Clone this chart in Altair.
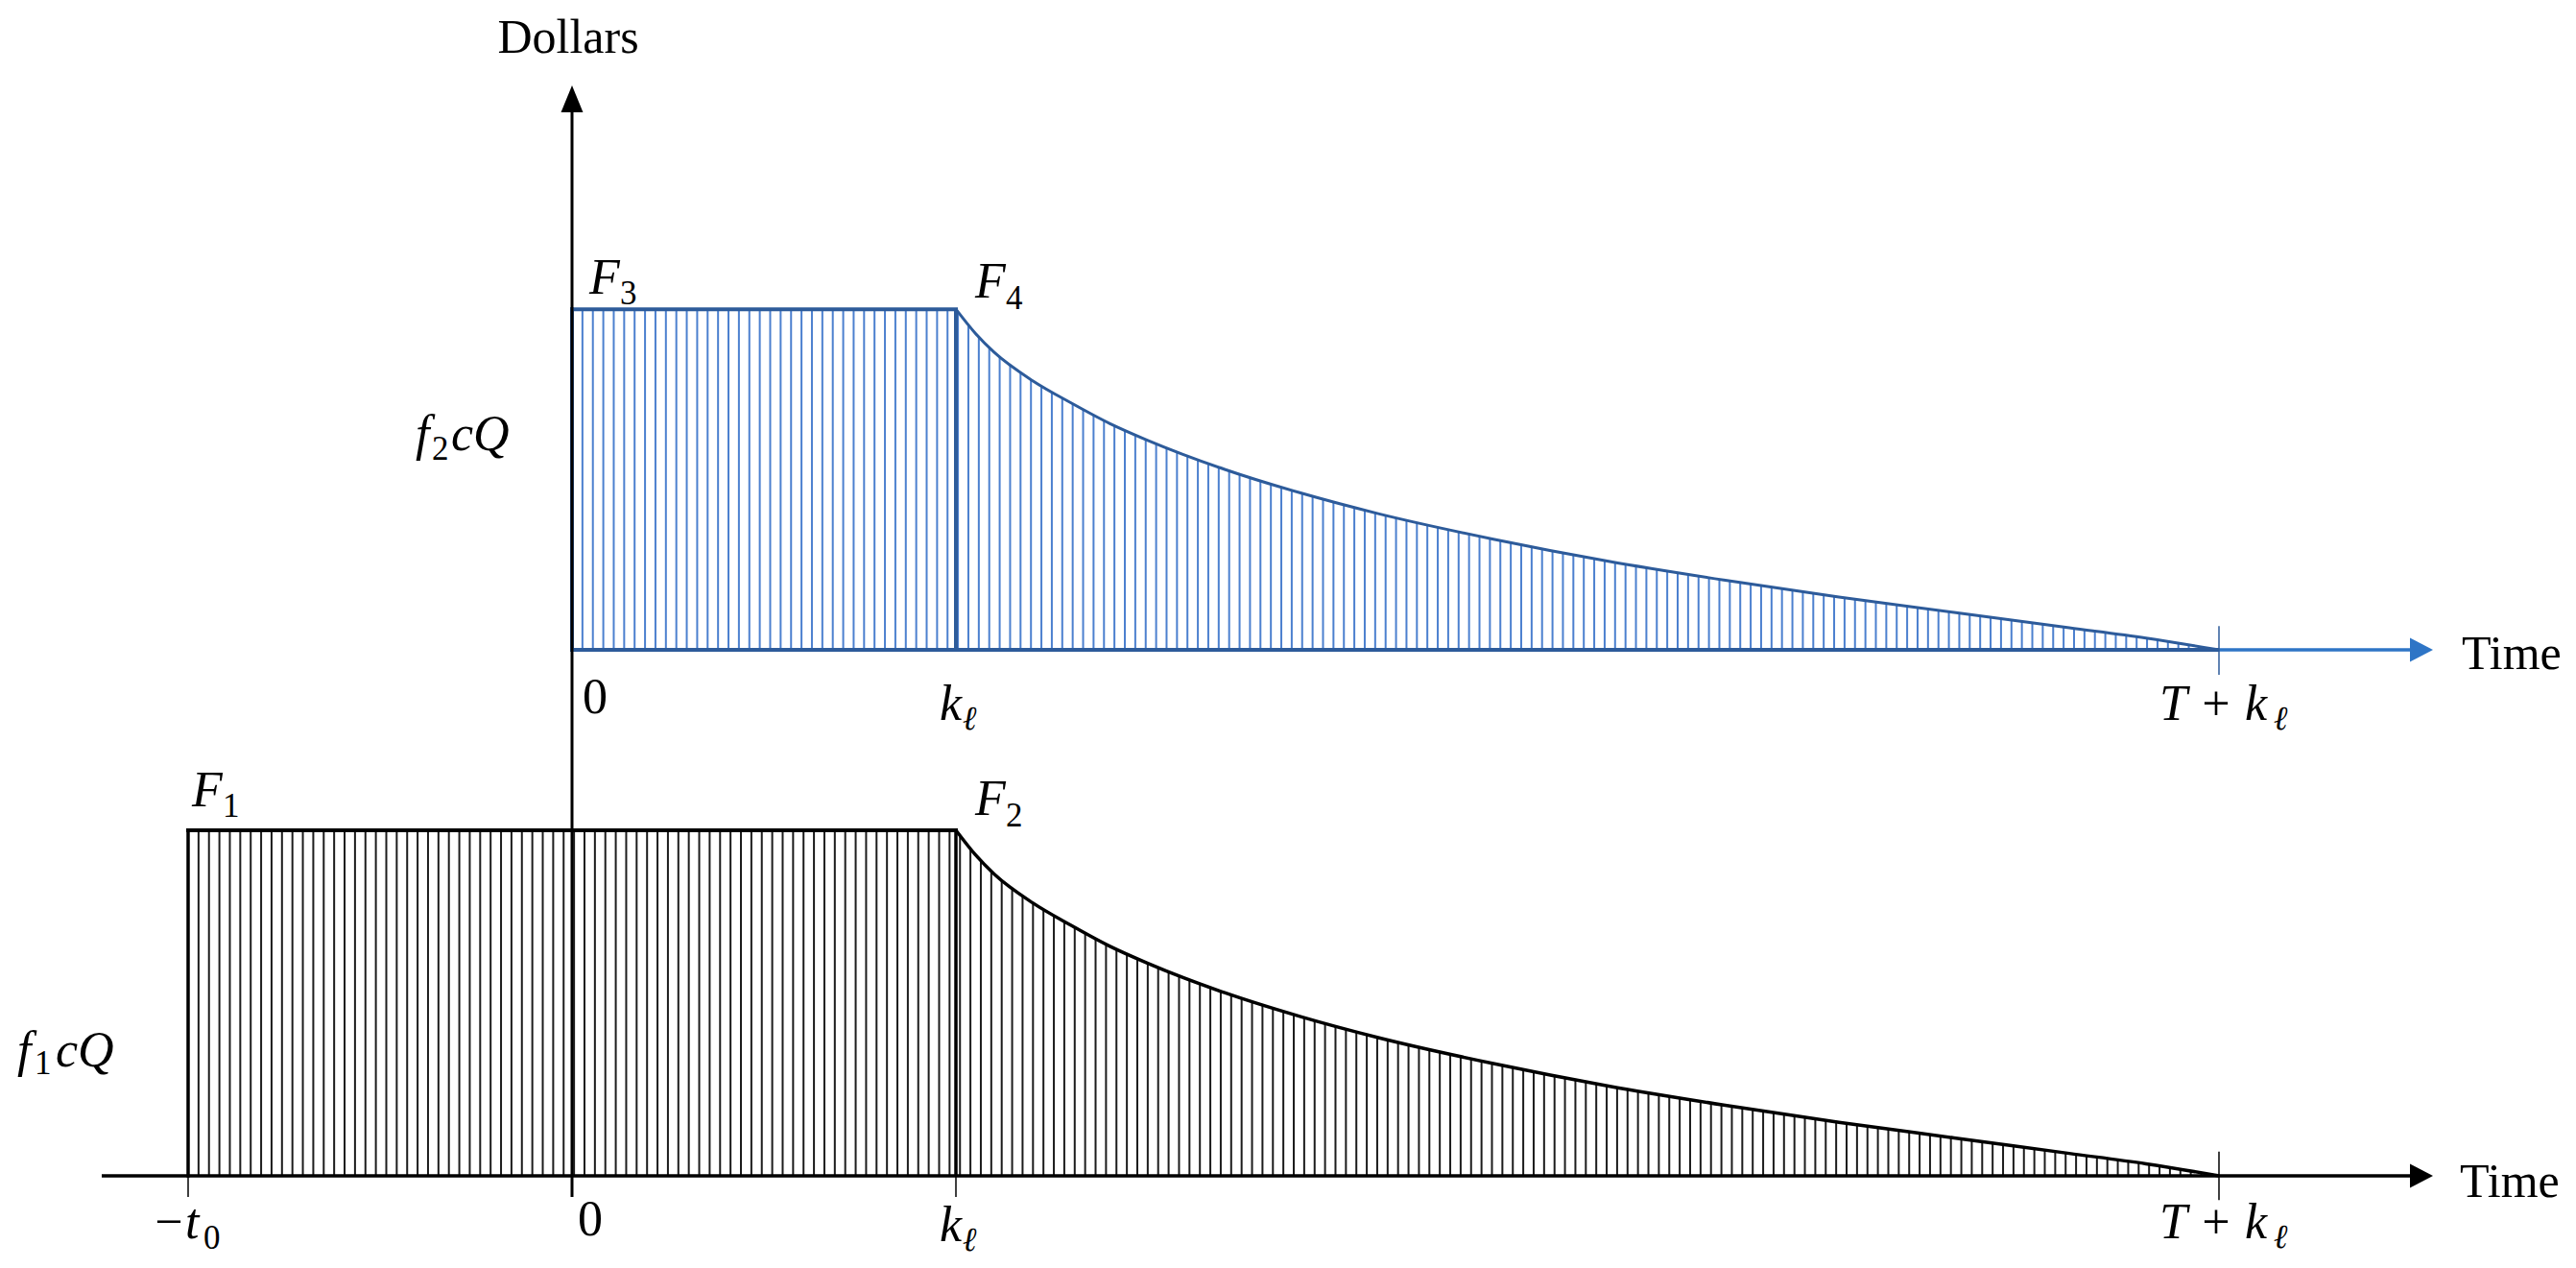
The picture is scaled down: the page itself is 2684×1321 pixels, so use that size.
import altair as alt
import numpy as np
import pandas as pd

# ---------------- values ----------------
tick_t = [-1.0, 0.0, 1.0, 4.29]          # -t0, 0, k_l, T + k_l  (time units, k_l = 1)
f1cQ = 1.0                               # plateau of lower (black) profile
f2cQ = 0.986                             # plateau of upper (blue) profile

decay_t = [1.0, 1.05, 1.1, 1.2, 1.3, 1.4, 1.5, 1.7, 1.9, 2.1, 2.4, 2.7, 3.0,
           3.3, 3.6, 3.9, 4.1, 4.29]
decay_top = [1.0, 0.93, 0.873, 0.79, 0.725, 0.665, 0.615, 0.53, 0.46, 0.40,
             0.325, 0.26, 0.205, 0.155, 0.11, 0.065, 0.035, 0.0]
decay_bottom = [1.0, 0.93, 0.873, 0.79, 0.725, 0.665, 0.615, 0.53, 0.46, 0.40,
                0.325, 0.26, 0.205, 0.155, 0.11, 0.065, 0.035, 0.0]

# ---------------- layout / style ----------------
W, H = 2668, 1305
X_DOM = [-1.47, 5.2]
Y_DOM = [-0.2444, 3.3806]
TOP = 1.522                 # vertical position of the upper time axis
AX_TOP = 3.078              # top of vertical axis line (arrow base)
AX_HEAD = 3.1167
AX_TIP = 3.1556
H_END = 4.79
H_HEAD = 4.8175
H_TIP = 4.8475
HATCH = 0.02717

BLACK = "#000000"
HATCH_BLACK = "#1c1c1c"
BLUE_EDGE = "#2D5B9A"
BLUE_HATCH = "#4C80CF"
BLUE_AXIS = "#2E75C6"
SERIF = "Liberation Serif, Times New Roman, DejaVu Serif, serif"

X = alt.X("t:Q", scale=alt.Scale(domain=X_DOM, nice=False, zero=False), axis=None)
Y = alt.Y("v:Q", scale=alt.Scale(domain=Y_DOM, nice=False, zero=False), axis=None)

layers = []


def vrule(t, v1, v2, color, w, cap="butt"):
    df = pd.DataFrame({"t": [t], "v": [v1], "v2": [v2]})
    return alt.Chart(df).mark_rule(color=color, strokeWidth=w, strokeCap=cap).encode(
        x=X, y=Y, y2="v2:Q")


def hrule(t1, t2, v, color, w, cap="butt"):
    df = pd.DataFrame({"t": [t1], "t2": [t2], "v": [v]})
    return alt.Chart(df).mark_rule(color=color, strokeWidth=w, strokeCap=cap).encode(
        x=X, x2="t2:Q", y=Y)


# hatching
hb = np.arange(tick_t[0], tick_t[3], HATCH)
ht = np.arange(tick_t[1], tick_t[3], HATCH)
layers.append(alt.Chart(pd.DataFrame({"t": hb, "v": 0.0, "v2": f1cQ}))
              .mark_rule(color=HATCH_BLACK, strokeWidth=2).encode(x=X, y=Y, y2="v2:Q"))
layers.append(alt.Chart(pd.DataFrame({"t": ht, "v": TOP, "v2": TOP + f2cQ}))
              .mark_rule(color=BLUE_HATCH, strokeWidth=2).encode(x=X, y=Y, y2="v2:Q"))

# white masks above decay curves
mb = pd.DataFrame({"t": decay_t, "v": [f1cQ * f for f in decay_bottom], "v2": f1cQ + 0.03})
mt = pd.DataFrame({"t": decay_t, "v": [TOP + f2cQ * f for f in decay_top], "v2": TOP + f2cQ + 0.03})
layers.append(alt.Chart(mb).mark_area(color="white", interpolate="monotone").encode(x=X, y=Y, y2="v2:Q"))
layers.append(alt.Chart(mt).mark_area(color="white", interpolate="monotone").encode(x=X, y=Y, y2="v2:Q"))

# lower profile outline
layers.append(vrule(tick_t[0], 0, f1cQ, BLACK, 3.5, "square"))
layers.append(hrule(tick_t[0], tick_t[2], f1cQ, BLACK, 4, "square"))
layers.append(vrule(tick_t[2], 0, f1cQ, BLACK, 3.5))
layers.append(alt.Chart(mb).mark_line(color=BLACK, strokeWidth=3.5, interpolate="monotone")
              .encode(x=X, y=Y))

# upper profile outline
layers.append(vrule(tick_t[1], TOP, TOP + f2cQ, BLUE_EDGE, 4, "square"))
layers.append(hrule(tick_t[1], tick_t[2], TOP + f2cQ, BLUE_EDGE, 4, "square"))
layers.append(vrule(tick_t[2], TOP, TOP + f2cQ, BLUE_EDGE, 4))
layers.append(hrule(tick_t[1], tick_t[3], TOP, BLUE_EDGE, 4))
layers.append(alt.Chart(mt).mark_line(color=BLUE_EDGE, strokeWidth=3, interpolate="monotone")
              .encode(x=X, y=Y))

# axes
layers.append(hrule(-1.225, H_END, 0, BLACK, 3.5))
layers.append(hrule(tick_t[3], H_END, TOP, BLUE_AXIS, 3.5))
layers.append(vrule(0, -0.061, AX_TOP, BLACK, 3))

# ticks
for tt in tick_t[:3]:
    layers.append(vrule(tt, -0.061, 0, BLACK, 1.5))
layers.append(vrule(tick_t[3], -0.07, 0.07, BLACK, 1.5))
layers.append(vrule(tick_t[3], TOP - 0.072, TOP + 0.069, BLUE_EDGE, 1.5))

# arrow heads
up = "M0,-1L0.82,1L-0.82,1Z"
right = "M1,0L-1,-1.04L-1,1.04Z"
layers.append(alt.Chart(pd.DataFrame({"t": [0.0], "v": [AX_HEAD]}))
              .mark_point(shape=up, size=784, filled=True, color=BLACK, opacity=1, strokeWidth=0)
              .encode(x=X, y=Y))
layers.append(alt.Chart(pd.DataFrame({"t": [H_HEAD], "v": [0.0]}))
              .mark_point(shape=right, size=576, filled=True, color=BLACK, opacity=1, strokeWidth=0)
              .encode(x=X, y=Y))
layers.append(alt.Chart(pd.DataFrame({"t": [H_HEAD], "v": [TOP]}))
              .mark_point(shape=right, size=576, filled=True, color=BLUE_AXIS, opacity=1, strokeWidth=0)
              .encode(x=X, y=Y))

# labels: (text, anchor t, anchor v, dx, dy, size, style, align)
BIG, SUB = 52, 35
labels = [
    ("\u2212t", tick_t[0], 0, -38, 65, BIG, "italic", "left"),
    ("0", tick_t[0], 0, 16, 76, SUB, "normal", "left"),
    ("0", tick_t[1], 0, 6, 62, BIG, "normal", "left"),
    ("k", tick_t[2], 0, -17, 68, BIG, "italic", "left"),
    ("\u2113", tick_t[2], 0, 7, 78, SUB, "italic", "left"),
    ("T + k", tick_t[3], 0, -62, 65, BIG, "italic", "left"),
    ("\u2113", tick_t[3], 0, 57, 75, SUB, "italic", "left"),
    ("0", tick_t[1], TOP, 11, 66, BIG, "normal", "left"),
    ("k", tick_t[2], TOP, -17, 73, BIG, "italic", "left"),
    ("\u2113", tick_t[2], TOP, 7, 83, SUB, "italic", "left"),
    ("T + k", tick_t[3], TOP, -62, 73, BIG, "italic", "left"),
    ("\u2113", tick_t[3], TOP, 57, 83, SUB, "italic", "left"),
    ("F", tick_t[0], f1cQ, 4, -25, BIG, "italic", "left"),
    ("1", tick_t[0], f1cQ, 36, -14, SUB, "normal", "left"),
    ("F", tick_t[2], f1cQ, 20, -16, BIG, "italic", "left"),
    ("2", tick_t[2], f1cQ, 52, -4, SUB, "normal", "left"),
    ("F", tick_t[1], TOP + f2cQ, 18, -16, BIG, "italic", "left"),
    ("3", tick_t[1], TOP + f2cQ, 50, -5, SUB, "normal", "left"),
    ("F", tick_t[2], TOP + f2cQ, 20, -12, BIG, "italic", "left"),
    ("4", tick_t[2], TOP + f2cQ, 52, 0, SUB, "normal", "left"),
    ("f", tick_t[0], f1cQ / 2, -178, 66, BIG, "italic", "left"),
    ("1", tick_t[0], f1cQ / 2, -160, 74, SUB, "normal", "left"),
    ("cQ", tick_t[0], f1cQ / 2, -138, 66, BIG, "italic", "left"),
    ("f", tick_t[1], TOP + f2cQ / 2, -163, -31, BIG, "italic", "left"),
    ("2", tick_t[1], TOP + f2cQ / 2, -146, -21, SUB, "normal", "left"),
    ("cQ", tick_t[1], TOP + f2cQ / 2, -126, -31, BIG, "italic", "left"),
    ("Dollars", 0.0, AX_TIP, -4, -34, 50, "normal", "center"),
    ("Time", H_TIP, TOP, 30, 20, 50, "normal", "left"),
    ("Time", H_TIP, 0.0, 28, 22, 50, "normal", "left"),
]
for text, t, v, dx, dy, size, style, align in labels:
    df = pd.DataFrame({"t": [t], "v": [v], "label": [text]})
    layers.append(alt.Chart(df).mark_text(
        font=SERIF, fontSize=size, fontStyle=style, align=align, baseline="alphabetic",
        dx=dx, dy=dy, color=BLACK).encode(x=X, y=Y, text="label:N"))

chart = alt.layer(*layers).properties(
    width=W, height=H, padding=0,
    autosize=alt.AutoSizeParams(type="none"),
    background="white",
).configure_view(stroke=None)

chart.save("out.html", embed_options={"renderer": "svg", "actions": False})
